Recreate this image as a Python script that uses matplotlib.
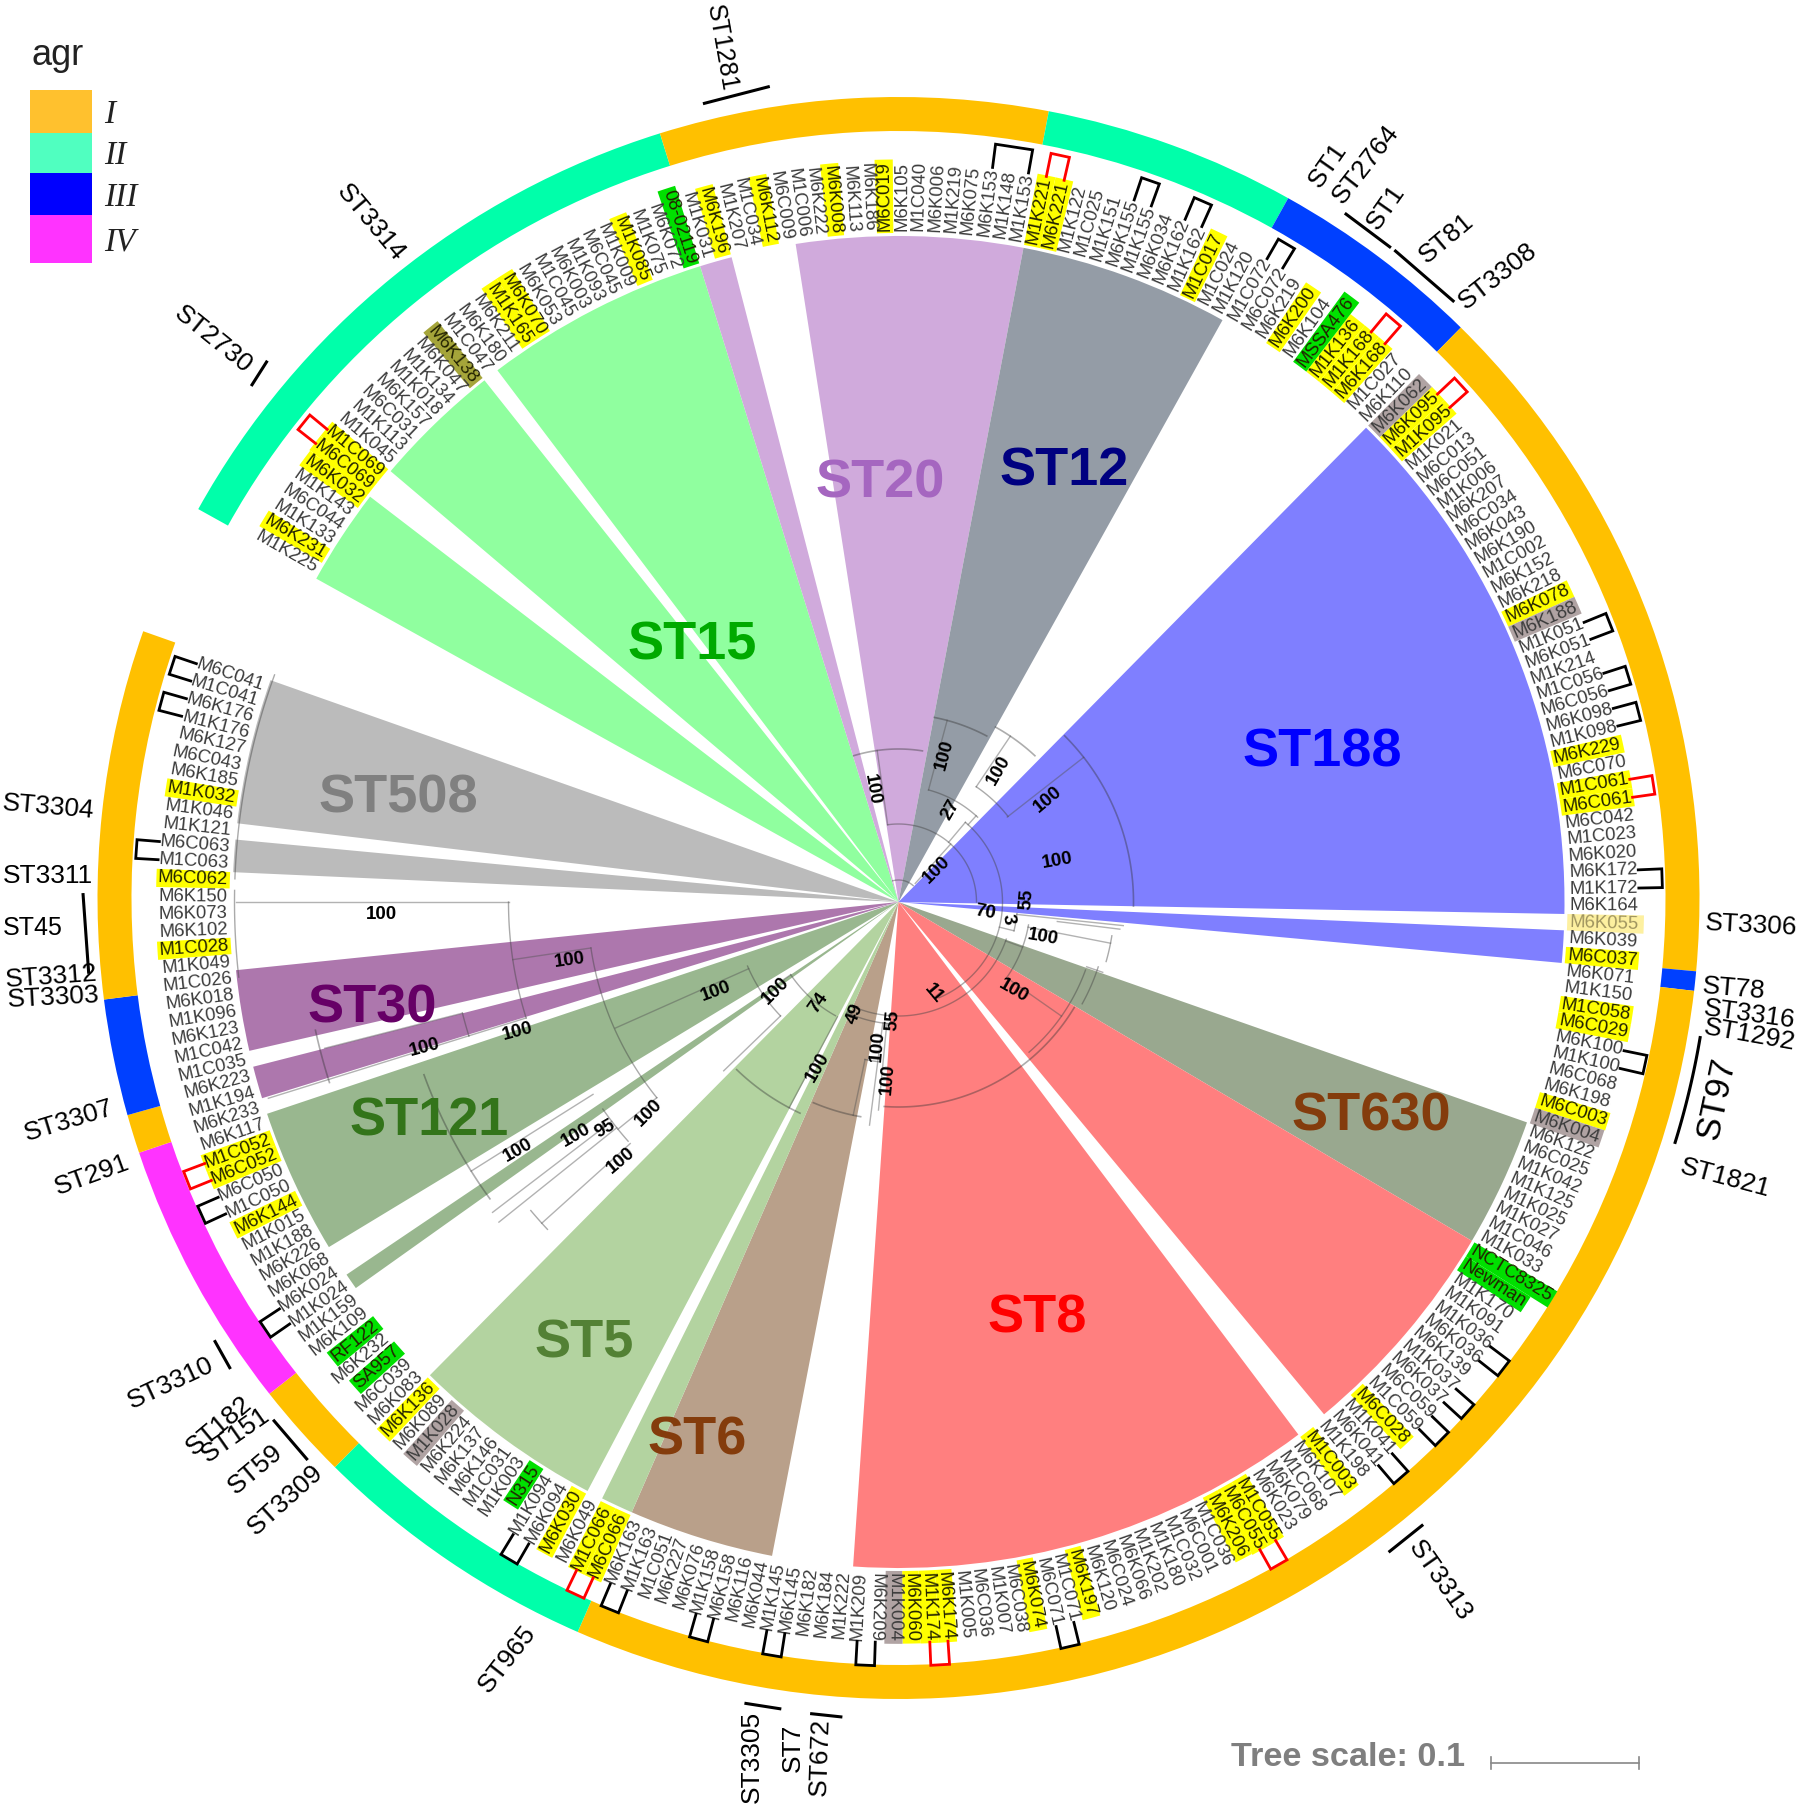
import numpy as np
import matplotlib
matplotlib.use("Agg")
import matplotlib.pyplot as plt
from matplotlib.textpath import TextPath
from matplotlib.font_manager import FontProperties

# tips, clockwise from the upper left end of the ring
tips = """M1K225 M6K231 M1K133 M6C044 M1K143 M6K032 M6C069 M1C069 M1K045 M1K113 M6C031 M6K157 M1K018 M1K134
M6K047 M6K138 M1C047 M6K180 M6K211 M1K165 M6K070 M6K053 M1C045 M6K003 M1K093 M6C045 M1K009 M1K085 M1K075
M6K072 08-02119 M1K031 M6K196 M1K207 M1C034 M6K112 M6C009 M1C006 M6K222 M6K008 M6K113 M6K186 M6C019 M6K105
M1C040 M6K006 M1K219 M6K075 M6K153 M1K148 M1K153 M1K221 M6K221 M1K122 M1C025 M1K151 M6K155 M1K155 M6K034
M6K162 M1K162 M1C017 M1C024 M1K120 M1C072 M6C072 M6K219 M6K200 M6K104 MSSA476 M1K136 M1K168 M6K168 M1C027
M6K110 M6K062 M6K095 M1K095 M1K021 M6C013 M6C051 M1K006 M6K207 M6C034 M6K043 M6K190 M1C002 M6K152 M6K218
M6K078 M6K188 M1K051 M6K051 M1K214 M1C056 M6C056 M6K098 M1K098 M6K229 M6C070 M1C061 M6C061 M6C042 M1C023
M6K020 M6K172 M1K172 M6K164 M6K055 M6K039 M6C037 M6K071 M1K150 M1C058 M6C029 M6K100 M1K100 M6C068 M6K198
M6C003 M6K004 M6K122 M6C025 M1K042 M1K125 M1K025 M1K027 M1C046 M1K033 NCTC8325 Newman M1K170 M1K091 M1K036
M6K036 M6K139 M1K037 M6K037 M6C059 M1C059 M6C028 M1K041 M6K041 M1K198 M1C003 M6K107 M1C068 M6K079 M6K023
M1C055 M6C055 M6K206 M1C036 M6C001 M1C032 M1K180 M1K202 M6K066 M6C024 M6K120 M6K197 M1C071 M6C071 M6K074
M6C038 M1K007 M6C036 M1K005 M6K174 M1K174 M6K060 M1K004 M6K209 M1K209 M1K222 M6K184 M6K182 M6K145 M1K145
M6K044 M6K116 M6K158 M1K158 M6K076 M6K227 M1C051 M1K163 M6K163 M6C066 M1C066 M6K049 M6K030 M6K094 M1K094
N315 M1K003 M1C031 M6K146 M6K137 M6K224 M1K028 M6K089 M6K136 M6K083 M6C039 SA957 M6K232 RF122 M6K109 M1K159
M1K024 M6K024 M6K068 M6K226 M1K188 M1K015 M6K144 M1C050 M6C050 M6C052 M1C052 M6K117 M6K233 M1K194 M6K223
M1C035 M1C042 M6K123 M1K096 M6K018 M1C026 M1K049 M1C028 M6K102 M6K073 M6K150 M6C062 M1C063 M6C063 M1K121
M1K046 M1K032 M6K185 M6C043 M6K127 M1K176 M6K176 M1C041 M6C041""".split()

yellow = """M6K231 M6K032 M6C069 M1C069 M1K165 M6K070 M1K085 M6K196 M6K112 M6K008 M6C019 M1K221 M6K221 M1C017
M6K200 M1K136 M1K168 M6K168 M6K095 M1K095 M6K078 M6K229 M1C061 M6C061 M6C037 M1C058 M6C029 M6C003 M6C028
M1C003 M1C055 M6C055 M6K206 M6K197 M6K074 M6K174 M1K174 M6K060 M6C066 M1C066 M6K030 M6K136 M6K144 M6C052
M1C052 M1C028 M6C062 M1K032""".split()
green = "08-02119 MSSA476 NCTC8325 Newman N315 SA957 RF122".split()
brownish = "M6K062 M6K188 M6K004 M1K004 M1K028".split()
olive = ["M6K138"]
pale = ["M6K055"]

# clade wedges as (colour key, first tip, last tip)
clades = [
    ("ST15", "M1K225", "M6K032"), ("ST15", "M1K045", "M6K138"), ("ST15", "M6K180", "08-02119"),
    ("ST20", "M1K031", "M6K196"), ("ST20", "M1C006", "M1K153"),
    ("ST12", "M1K221", "M1K120"),
    ("ST188", "M6K062", "M6K164"), ("ST188", "M6K039", "M6C037"),
    ("ST630", "M6K122", "M1K033"),
    ("ST8", "NCTC8325", "M6K041"), ("ST8", "M6K107", "M1K209"),
    ("ST6", "M6K044", "M6K163"),
    ("ST5", "M6C066", "M1C066"), ("ST5", "M6K030", "M6K136"),
    ("ST121", "M1K024", "M1K024"), ("ST121", "M6K226", "M6K117"),
    ("ST30", "M1K194", "M6K223"), ("ST30", "M1C042", "M1C026"),
    ("ST508", "M1C063", "M6C063"), ("ST508", "M1K046", "M6C041"),
]
clade_fill = {"ST15": "#90ff9f", "ST20": "#d0aadc", "ST12": "#949ca6", "ST188": "#7f7fff", "ST630": "#99a88f",
              "ST8": "#ff7f7f", "ST6": "#b9a08a", "ST5": "#b3d3a0", "ST121": "#99b78f", "ST30": "#ad77ad",
              "ST508": "#bbbbbb"}

# agr ring as (type, first tip, last tip)
agr = [
    ("II", "M1K225", "08-02119"), ("I", "M1K031", "M1K153"), ("II", "M1K221", "M1K120"),
    ("III", "M1C072", "M6K110"), ("I", "M6K062", "M6C037"), ("III", "M6K071", "M6K071"),
    ("I", "M1K150", "M6K163"), ("II", "M6C066", "M6K136"), ("I", "M6K083", "RF122"),
    ("IV", "M6K109", "M6K117"), ("I", "M6K233", "M1K194"), ("III", "M6K223", "M6K018"),
    ("I", "M1C026", "M6C041"),
]
agr_fill = {"I": "#ffc000", "II": "#00ffaa", "III": "#0040ff", "IV": "#ff33ff"}

black_pairs = [("M6K153", "M1K153"), ("M6K155", "M1K155"), ("M6K162", "M1K162"), ("M1C072", "M6C072"),
               ("M1K051", "M6K051"), ("M1C056", "M6C056"), ("M6K098", "M1K098"), ("M6K172", "M1K172"),
               ("M6K100", "M1K100"), ("M1K036", "M6K036"), ("M1K037", "M6K037"), ("M6C059", "M1C059"),
               ("M1K041", "M6K041"), ("M1C071", "M6C071"), ("M6K209", "M1K209"), ("M6K145", "M1K145"),
               ("M6K158", "M1K158"), ("M1K163", "M6K163"), ("M6K094", "M1K094"), ("M1K024", "M6K024"),
               ("M1C050", "M6C050"), ("M1C063", "M6C063"), ("M1K176", "M6K176"), ("M1C041", "M6C041")]
red_pairs = [("M6C069", "M1C069"), ("M1K221", "M6K221"), ("M1K168", "M6K168"), ("M6K095", "M1K095"),
             ("M1C061", "M6C061"), ("M1C055", "M6C055"), ("M6K174", "M1K174"), ("M6C066", "M1C066"),
             ("M6C052", "M1C052")]

# tree branches: arcs (radius, from, to) and spokes (angle, from radius, to radius)
tree_arcs = [(78, 352, 450), (22, 345, 402), (104, 400, 517), (116, 375, 403), (139, 394, 412),
             (114, 109, 205), (119, 95.6, 104), (132, 100, 125),
             (216, 99, 106), (199, 110, 139), (210, 108, 119), (122, 185, 205), (130, 209, 222),
             (130, 222, 236), (164, 226, 247), (311, 231, 261.5), (390, 252.7, 270),
             (450, 252.7, 255.7), (361, 228.5, 235), (480, 227, 230),
             (161, 187, 192), (664, 263.5, 271), (664, 272, 290)]
tree_spokes = [(42, 25, 78), (40, 78, 104), (15, 116, 188), (42, 104, 116), (34, 139, 200), (52, 138, 235),
               (352, 78, 153), (104, 104, 119), (110, 114, 132), (96, 119, 226), (101, 132, 216), (97, 160, 223),
               (125, 132, 199), (109, 199, 216), (208, 130, 233), (205, 114, 122), (236, 130, 138), (246, 164, 310),
               (226, 164, 243), (261.5, 311, 390), (270, 390, 663), (252.7, 390, 450), (255.7, 450, 592),
               (252.7, 450, 660), (231, 311, 361), (231.3, 361, 512), (232.6, 361, 511), (228, 361, 480),
               (237.8, 361, 505), (192, 161, 218), (187.4, 122, 225), (185.5, 122, 209)]
jagged_arcs = [(188, 11, 28), (200, 29, 43), (235, 45, 91), (153, 343, 369), (205, 121, 184), (233, 205, 224),
               (505, 234, 250), (218, 190, 203), (597, 252.4, 257.6)]

bootstrap_text = ["100", "100", "27", "100", "100", "100", "100", "55", "70", "3", "100", "100", "11", "100", "100",
                  "100", "100", "100", "100", "74", "49", "55", "100", "100", "100", "100", "100", "100", "100", "95"]
bootstrap_xyr = [(757, 685, -80), (820, 655, 75), (825, 703, 60), (867, 668, 60), (909, 694, 40), (813, 755, 45),
                 (918, 747, 10), (891, 780, 85), (855, 792, -10), (875, 798, -80), (905, 813, -10), (880, 860, -30),
                 (810, 862, -50), (331, 794, 0), (494, 833, 8), (621, 860, 20), (449, 895, 15), (369, 909, 15),
                 (673, 860, 45), (710, 870, 55), (742, 880, 70), (775, 885, 85), (762, 908, 85), (770, 936, 85),
                 (710, 926, 60), (563, 966, 45), (539, 1007, 40), (450, 998, 30), (500, 985, 30), (525, 980, 30)]

clade_names = ["ST188", "ST508", "ST30", "ST121", "ST5", "ST6", "ST8", "ST630", "ST15", "ST20", "ST12"]
clade_ink = ["#0000ff", "#808080", "#660066", "#33741a", "#538135", "#843c0c", "#ff0000", "#843c0c", "#00aa00",
             "#a566c0", "#000080"]
clade_xy = [(1147, 653), (346, 693), (323, 875), (372, 973), (507, 1166), (605, 1250), (900, 1144), (1190, 969),
            (601, 560), (764, 420), (923, 409)]

st_names = ["ST1281", "ST3314", "ST2730", "ST1", "ST2764", "ST1", "ST81", "ST3308", "ST3306", "ST78", "ST3316",
            "ST1292", "ST1821", "ST3313", "ST965", "ST3305", "ST7", "ST672", "ST3309", "ST59", "ST151", "ST182",
            "ST3310", "ST291", "ST3307", "ST3303", "ST3312", "ST45", "ST3311", "ST3304"]
st_xyr = [(626, 42, -80), (322, 193, -50), (185, 295, -39), (1152, 143, 55), (1185, 143, 52), (1203, 180, 55),
          (1255, 207, 40), (1300, 240, 38), (1520, 803, -3), (1505, 858, -5), (1518, 880, -8), (1518, 898, -10),
          (1497, 1022, -15), (1250, 1372, -55), (440, 1440, 52), (652, 1525, 90), (688, 1517, 90), (712, 1525, 88),
          (248, 1302, 42), (222, 1275, 40), (204, 1245, 35), (190, 1237, 40), (148, 1200, 25), (80, 1020, 20),
          (60, 973, 17), (46, 866, 3), (45, 848, 4), (28, 805, 0), (42, 760, 0), (42, 700, -5)]
st_ticks = [((610, 90), (668, 75)), ((218, 335), (232, 313)), ((1167, 185), (1207, 215)), ((1210, 217), (1262, 262)),
            ((1205, 1347), (1235, 1323)), ((646, 1478), (678, 1483)), ((703, 1487), (731, 1490)),
            ((237, 1232), (267, 1267)), ((186, 1163), (200, 1188)), ((72, 775), (77, 845))]

legend_types = ["I", "II", "III", "IV"]
legend_fill = ["#ffc12e", "#50ffc0", "#0000ff", "#ff33ff"]

FAM = "Liberation Sans"
K = 1800 / 1562
CX, CY, RMAX = 898.5, 902.0, 900.0
RING_CY = 898.0          # the ring sits a little higher than the tree
FONT_PX = 18.5
R_TIP = 671.0
R_CLADE = 666.0
TIP_START = 299.75
TIP_END = 648.75
step = (TIP_END - TIP_START) / (len(tips) - 1)
idx = {name: i for i, name in enumerate(tips)}


def ang(name):
    return TIP_START + idx[name] * step


def width_px(name):
    tp = TextPath((0, 0), name, size=FONT_PX, prop=FontProperties(family=FAM))
    return tp.get_extents().width


def span_bar(on, first, last, r0, r1, color, z):
    a1 = ang(first) - step / 2
    a2 = ang(last) + step / 2
    on.bar(np.radians((a1 + a2) / 2), r1 - r0, width=np.radians(a2 - a1), bottom=r0, color=color, linewidth=0, zorder=z)


def polar_axes(cy):
    a = fig.add_axes([(CX - RMAX) / 1800, (1807 - cy - RMAX) / 1807, 2 * RMAX / 1800, 2 * RMAX / 1807], projection="polar")
    a.set_theta_zero_location("N")
    a.set_theta_direction(-1)
    a.set_ylim(0, RMAX)
    a.axis("off")
    return a


fig = plt.figure(figsize=(18, 18.07), dpi=100)
ring_ax = polar_axes(RING_CY)
ax = polar_axes(CY)

# wedges and ring
for key, first, last in clades:
    span_bar(ax, first, last, 0, R_CLADE, clade_fill[key], 1)
for key, first, last in agr:
    span_bar(ring_ax, first, last, 767, 801, agr_fill[key], 1)

# highlights behind the tip names
for group, color in [(yellow, "#ffff00"), (green, "#00e000"), (brownish, "#b0a3a3"), (olive, "#a5a53a"), (pale, "#fdf0a0")]:
    for name in group:
        w = width_px(name) + (8 if name in pale else 4)
        span_bar(ax, name, name, R_TIP - 2, R_TIP + w, color, 2)

# tree
for r, a1, a2 in tree_arcs:
    t = np.radians(np.linspace(a1, a2, 60))
    ax.plot(t, np.full_like(t, r), color="#444444", alpha=0.45, lw=1.0, zorder=3)
for a, r1, r2 in tree_spokes:
    ax.plot(np.radians([a, a]), [r1, r2], color="#555555", alpha=0.45, lw=1.0, zorder=3)
for r, a1, a2 in jagged_arcs:
    t = np.radians(np.linspace(a1, a2, 60))
    ax.plot(t, np.full_like(t, r), color="#333333", alpha=0.4, lw=1.2, zorder=3)

# tip names
for name in tips:
    a = ang(name)
    right = (a + 2) % 360 < 184
    color = "#3c3c3c"
    if name in pale:
        color = "#a09560"
    elif name in green or name in yellow or name in olive:
        color = "#222200"
    ax.text(np.radians(a), R_TIP, name, fontsize=FONT_PX * 0.72, family=FAM, color=color,
            rotation=(90 - a) if right else (270 - a), rotation_mode="anchor",
            ha="left" if right else "right", va="center", zorder=4)

# brackets for the paired isolates
for pairs, color in [(black_pairs, "black"), (red_pairs, "#ff0000")]:
    for n1, n2 in pairs:
        a1, a2 = ang(n1), ang(n2)
        ax.plot(np.radians([a1, a1, a2, a2]),
                [R_TIP + width_px(n1) + 3, 764, 764, R_TIP + width_px(n2) + 3],
                color=color, lw=2.0, solid_joinstyle="miter", zorder=5)

# ST97 bar follows the ring
t = np.radians(np.linspace(99.6, 107.2, 20))
ax.plot(t, np.full_like(t, 813), color="black", lw=2.2, zorder=5)

# everything else in picture coordinates
top = fig.add_axes([0, 0, 1, 1])
top.set_xlim(0, 1800)
top.set_ylim(1807, 0)
top.axis("off")


def note(x, y, s, rot=0, **kw):
    top.text(x * K, y * K, s, rotation=rot, rotation_mode="anchor", ha="center", va="center", family=FAM, **kw)


for s, (x, y, r) in zip(bootstrap_text, bootstrap_xyr):
    note(x, y, s, r, fontsize=13.5, fontweight="bold", color="black")
for s, c, (x, y) in zip(clade_names, clade_ink, clade_xy):
    note(x, y, s, fontsize=39, fontweight="bold", color=c)
for s, (x, y, r) in zip(st_names, st_xyr):
    note(x, y, s, r, fontsize=18 if s in ("ST1281", "ST45") else 19, color="black")
note(1490, 953, "ST97", 78, fontsize=25, color="black")
for (x1, y1), (x2, y2) in st_ticks:
    top.plot([x1 * K, x2 * K], [y1 * K, y2 * K], color="black", lw=2.2, solid_capstyle="butt")

# legend
note(50, 48, "agr", fontsize=26, color="#222222")
for i, (s, c) in enumerate(zip(legend_types, legend_fill)):
    y0, y1 = [78, 115, 150, 187][i], [115, 150, 187, 228][i]
    top.fill_between([26 * K, 80 * K], y0 * K, y1 * K, color=c, linewidth=0)
    top.text(90 * K, ((y0 + y1) / 2 + 3) * K, s, family="Liberation Serif", style="italic", fontsize=24, va="center",
             ha="left", color="#222222")

# tree scale
top.text(1068 * K, 1525 * K, "Tree scale: 0.1", family=FAM, fontweight="bold", fontsize=24.7, color="#7f7f7f", ha="left",
         va="center")
top.plot([1294 * K, 1422 * K], [1530 * K, 1530 * K], color="#888888", lw=1.2)
for x in (1294, 1422):
    top.plot([x * K, x * K], [1525 * K, 1535 * K], color="#888888", lw=1.2)

fig.savefig("out.png", dpi=100, facecolor="white")
